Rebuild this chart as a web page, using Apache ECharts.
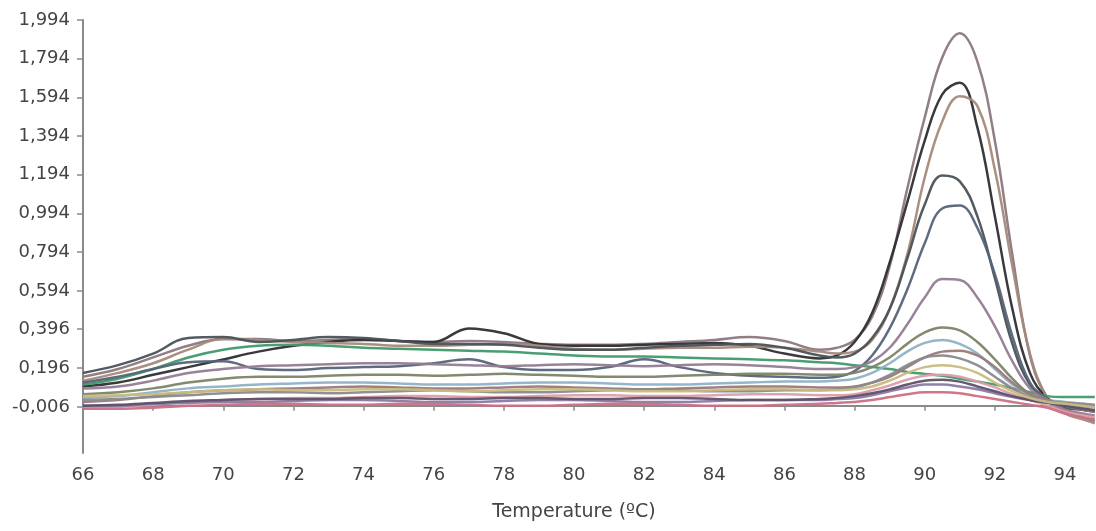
<!DOCTYPE html>
<html>
<head>
<meta charset="utf-8">
<title>Melting curve</title>
<script src="https://cdn.jsdelivr.net/npm/echarts@6/dist/echarts.min.js"></script>
<style>
  html, body { margin: 0; padding: 0; background: #ffffff; }
  #chart { width: 1096px; height: 531px; }
</style>
</head>
<body>
<div id="chart"></div>
<script>
// Temperature points (ºC) shared by every melt curve
const temps = [66, 67, 68, 69, 70, 71, 72, 73, 74, 75, 76, 77, 78, 79, 80, 81, 82, 83, 84, 85, 86, 87,
  87.5, 88, 88.5, 89, 89.5, 90, 90.5, 91, 91.5, 92, 92.5, 93, 93.5, 94, 94.5, 94.85];

// Y-axis tick positions and their printed labels
const yTickValues = [-0.006, 0.196, 0.396, 0.594, 0.794, 0.994, 1.194, 1.394, 1.594, 1.794, 1.994];
const yTickLabels = ['-0,006', '0,196', '0,396', '0,594', '0,794', '0,994', '1,194', '1,394', '1,594', '1,794', '1,994'];

// Derivative fluorescence per sample
const sample01 = [0.15, 0.19, 0.25, 0.31, 0.345, 0.345, 0.335, 0.34, 0.345, 0.335, 0.33, 0.335, 0.33, 0.32, 0.315, 0.315, 0.32, 0.33, 0.34, 0.355, 0.335, 0.29,
  0.30, 0.34, 0.46, 0.72, 1.12, 1.49, 1.80, 1.925, 1.78, 1.37, 0.78, 0.26, 0.04, -0.03, -0.06, -0.08];
const sample02 = [0.10, 0.12, 0.16, 0.20, 0.24, 0.28, 0.31, 0.33, 0.34, 0.335, 0.33, 0.40, 0.375, 0.32, 0.31, 0.31, 0.315, 0.32, 0.325, 0.31, 0.27, 0.245,
  0.26, 0.33, 0.48, 0.74, 1.05, 1.37, 1.61, 1.67, 1.44, 0.98, 0.50, 0.17, 0.04, 0.0, -0.02, -0.03];
const sample03 = [0.13, 0.17, 0.22, 0.29, 0.345, 0.34, 0.33, 0.325, 0.32, 0.31, 0.31, 0.315, 0.32, 0.31, 0.295, 0.29, 0.295, 0.30, 0.30, 0.305, 0.30, 0.28,
  0.27, 0.28, 0.34, 0.50, 0.78, 1.18, 1.47, 1.60, 1.55, 1.22, 0.72, 0.27, 0.04, -0.04, -0.07, -0.09];
const sample04 = [0.17, 0.21, 0.27, 0.35, 0.355, 0.33, 0.34, 0.355, 0.35, 0.335, 0.32, 0.32, 0.315, 0.30, 0.29, 0.29, 0.30, 0.31, 0.315, 0.32, 0.30, 0.26,
  0.25, 0.27, 0.35, 0.50, 0.76, 1.04, 1.19, 1.16, 0.98, 0.66, 0.32, 0.11, 0.035, -0.01, -0.02, -0.03];
const sample05 = [0.11, 0.14, 0.19, 0.25, 0.29, 0.31, 0.315, 0.31, 0.30, 0.295, 0.29, 0.285, 0.28, 0.27, 0.26, 0.255, 0.255, 0.25, 0.245, 0.24, 0.235, 0.225,
  0.22, 0.21, 0.20, 0.19, 0.175, 0.165, 0.155, 0.14, 0.125, 0.11, 0.09, 0.07, 0.05, 0.045, 0.045, 0.045];
const sample06 = [0.12, 0.15, 0.19, 0.225, 0.23, 0.19, 0.185, 0.195, 0.20, 0.205, 0.22, 0.24, 0.20, 0.185, 0.185, 0.20, 0.24, 0.20, 0.17, 0.155, 0.15, 0.145,
  0.15, 0.18, 0.26, 0.40, 0.60, 0.84, 1.02, 1.035, 0.92, 0.68, 0.36, 0.12, 0.035, 0.0, -0.01, -0.02];
const sample07 = [0.09, 0.10, 0.13, 0.17, 0.19, 0.205, 0.21, 0.215, 0.22, 0.22, 0.215, 0.21, 0.205, 0.21, 0.215, 0.21, 0.205, 0.21, 0.215, 0.21, 0.20, 0.19,
  0.19, 0.20, 0.23, 0.30, 0.42, 0.56, 0.655, 0.65, 0.56, 0.41, 0.23, 0.09, 0.03, -0.02, -0.04, -0.05];
const sample08 = [0.06, 0.07, 0.09, 0.12, 0.14, 0.15, 0.15, 0.155, 0.16, 0.16, 0.155, 0.16, 0.165, 0.16, 0.155, 0.15, 0.15, 0.155, 0.16, 0.165, 0.165, 0.16,
  0.16, 0.17, 0.20, 0.25, 0.32, 0.38, 0.405, 0.39, 0.33, 0.24, 0.14, 0.06, 0.025, 0.01, 0.0, -0.01];
const sample09 = [0.04, 0.05, 0.07, 0.09, 0.10, 0.11, 0.115, 0.12, 0.12, 0.115, 0.11, 0.11, 0.115, 0.12, 0.12, 0.115, 0.11, 0.11, 0.115, 0.12, 0.125, 0.125,
  0.13, 0.14, 0.17, 0.22, 0.28, 0.325, 0.34, 0.32, 0.27, 0.19, 0.11, 0.055, 0.03, 0.02, 0.01, 0.0];
const sample10 = [0.02, 0.03, 0.05, 0.07, 0.08, 0.085, 0.09, 0.095, 0.10, 0.095, 0.09, 0.09, 0.095, 0.10, 0.095, 0.09, 0.085, 0.09, 0.095, 0.10, 0.10, 0.095,
  0.095, 0.10, 0.12, 0.15, 0.20, 0.25, 0.28, 0.285, 0.26, 0.20, 0.12, 0.06, 0.03, 0.0, -0.02, -0.03];
const sample11 = [0.03, 0.035, 0.045, 0.055, 0.065, 0.07, 0.07, 0.065, 0.07, 0.075, 0.08, 0.075, 0.07, 0.07, 0.075, 0.08, 0.085, 0.08, 0.075, 0.075, 0.08, 0.08,
  0.085, 0.095, 0.12, 0.16, 0.21, 0.25, 0.26, 0.245, 0.21, 0.15, 0.09, 0.045, 0.025, 0.015, 0.01, 0.005];
const sample12 = [-0.01, -0.005, 0.005, 0.02, 0.03, 0.035, 0.04, 0.04, 0.045, 0.05, 0.05, 0.045, 0.045, 0.05, 0.055, 0.055, 0.05, 0.05, 0.055, 0.06, 0.06, 0.055,
  0.055, 0.06, 0.08, 0.105, 0.135, 0.155, 0.16, 0.15, 0.125, 0.095, 0.06, 0.03, 0.0, -0.03, -0.05, -0.06];
const sample13 = [0.0, 0.0, 0.01, 0.015, 0.02, 0.02, 0.025, 0.03, 0.03, 0.025, 0.02, 0.02, 0.025, 0.03, 0.03, 0.025, 0.02, 0.02, 0.025, 0.03, 0.03, 0.03,
  0.035, 0.04, 0.055, 0.075, 0.095, 0.11, 0.11, 0.10, 0.085, 0.065, 0.045, 0.03, 0.015, 0.0, -0.01, -0.02];
const sample14 = [-0.015, -0.015, -0.01, 0.0, 0.005, 0.01, 0.01, 0.005, 0.005, 0.01, 0.01, 0.005, 0.0, 0.0, 0.005, 0.01, 0.01, 0.005, 0.0, 0.0, 0.005, 0.01,
  0.015, 0.02, 0.03, 0.045, 0.06, 0.07, 0.07, 0.065, 0.05, 0.035, 0.02, 0.005, -0.01, -0.04, -0.06, -0.07];
const sample15 = [0.0, 0.005, 0.015, 0.025, 0.03, 0.035, 0.035, 0.035, 0.04, 0.04, 0.035, 0.035, 0.04, 0.04, 0.035, 0.035, 0.04, 0.04, 0.035, 0.03, 0.03, 0.035,
  0.04, 0.05, 0.065, 0.085, 0.11, 0.13, 0.135, 0.125, 0.10, 0.075, 0.05, 0.03, 0.015, 0.0, -0.015, -0.025];
const sample16 = [0.05, 0.055, 0.06, 0.07, 0.08, 0.085, 0.08, 0.08, 0.085, 0.085, 0.08, 0.075, 0.08, 0.085, 0.085, 0.08, 0.075, 0.075, 0.08, 0.085, 0.085, 0.08,
  0.08, 0.085, 0.10, 0.13, 0.17, 0.20, 0.21, 0.20, 0.17, 0.12, 0.075, 0.04, 0.02, 0.01, 0.0, -0.01];

const samples = [
  { name: 'Sample 1', data: sample01, color: '#8c7880' },
  { name: 'Sample 2', data: sample02, color: '#2f2f33' },
  { name: 'Sample 3', data: sample03, color: '#a48a7a' },
  { name: 'Sample 4', data: sample04, color: '#4a5258' },
  { name: 'Sample 5', data: sample05, color: '#3f9a6a' },
  { name: 'Sample 6', data: sample06, color: '#566478' },
  { name: 'Sample 7', data: sample07, color: '#937c94' },
  { name: 'Sample 8', data: sample08, color: '#7c8466' },
  { name: 'Sample 9', data: sample09, color: '#8fb2c6' },
  { name: 'Sample 10', data: sample10, color: '#9a7a7a' },
  { name: 'Sample 11', data: sample11, color: '#8a8a8a' },
  { name: 'Sample 12', data: sample12, color: '#dc9eac' },
  { name: 'Sample 13', data: sample13, color: '#8a7aa8' },
  { name: 'Sample 14', data: sample14, color: '#cc7084' },
  { name: 'Sample 15', data: sample15, color: '#5e5068' },
  { name: 'Sample 16', data: sample16, color: '#c9ba80' }
];

const chart = echarts.init(document.getElementById('chart'), null, { renderer: 'canvas' });

const fontFamily = 'DejaVu Sans, sans-serif';
const W = 1096;
const plotLeft = 83, plotRight = 31, plotTop = 20, plotBottom = 78;
const xMin = 66, xMax = 94, yMin = -0.244, yMax = 1.994;
// The traces run on past the last tick, to the right edge of the canvas:
// a second, axis-less grid keeps the same °C-per-pixel scale out to that edge.
const plotWidth = W - plotLeft - plotRight;
const traceXMax = xMin + (xMax - xMin) * (W - plotLeft) / plotWidth;

chart.setOption({
  animation: false,
  backgroundColor: '#ffffff',
  grid: [
    { left: plotLeft, right: plotRight, top: plotTop, bottom: plotBottom, containLabel: false },
    { left: plotLeft, right: 0, top: plotTop, bottom: plotBottom, containLabel: false }
  ],
  xAxis: [{
    gridIndex: 0,
    type: 'value',
    min: xMin,
    max: xMax,
    interval: 2,
    name: 'Temperature (ºC)',
    nameLocation: 'middle',
    nameGap: 50,
    nameTextStyle: { color: '#444', fontSize: 19, fontFamily: fontFamily },
    axisLine: { show: true, lineStyle: { color: '#8a8a8a', width: 2 } },
    axisTick: { show: true, length: 5, lineStyle: { color: '#8a8a8a', width: 1.5 } },
    axisLabel: { color: '#444', fontSize: 18, fontFamily: fontFamily, margin: 13 },
    splitLine: { show: false }
  }, {
    gridIndex: 1,
    type: 'value',
    min: xMin,
    max: traceXMax,
    show: false
  }],
  yAxis: [{
    gridIndex: 0,
    type: 'value',
    min: yMin,
    max: yMax,
    axisLine: { show: true, lineStyle: { color: '#8a8a8a', width: 2 } },
    axisTick: { show: true, length: 6, customValues: yTickValues, lineStyle: { color: '#8a8a8a', width: 1.5 } },
    axisLabel: {
      show: true,
      customValues: yTickValues,
      color: '#444',
      fontSize: 18,
      fontFamily: fontFamily,
      margin: 13,
      formatter: function (v) {
        let best = 0;
        for (let i = 1; i < yTickValues.length; i++) {
          if (Math.abs(yTickValues[i] - v) < Math.abs(yTickValues[best] - v)) best = i;
        }
        return yTickLabels[best];
      }
    },
    splitLine: { show: false }
  }, {
    gridIndex: 1,
    type: 'value',
    min: yMin,
    max: yMax,
    show: false
  }],
  series: samples.map(function (s) {
    return {
      name: s.name,
      type: 'line',
      xAxisIndex: 1,
      yAxisIndex: 1,
      data: temps.map(function (t, i) { return [t, s.data[i]]; }),
      smooth: 0.4,
      showSymbol: false,
      lineStyle: { color: s.color, width: 2.5, opacity: 0.95 },
      itemStyle: { color: s.color },
      emphasis: { disabled: true }
    };
  })
});
</script>
</body>
</html>
